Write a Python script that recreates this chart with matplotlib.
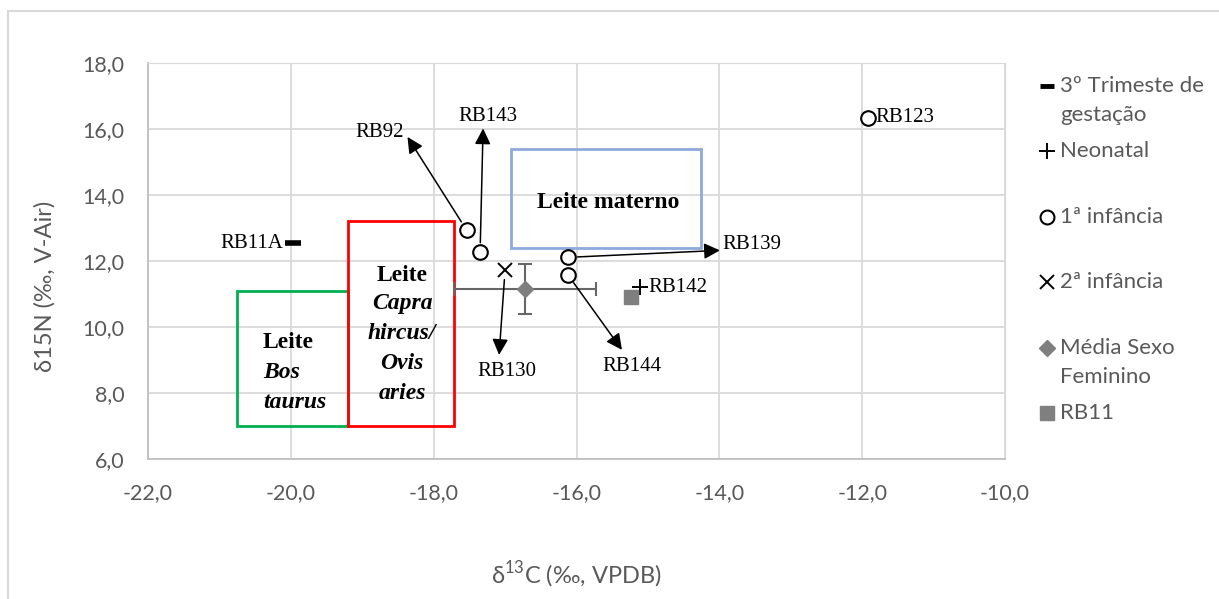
import matplotlib
matplotlib.use("Agg")
import matplotlib.pyplot as plt
from matplotlib.lines import Line2D
from matplotlib.patches import Rectangle

# --- data ---
gest_x, gest_y = [-19.97], [12.54]                     # RB11A
neo_x, neo_y = [-15.11], [11.20]                       # RB142
inf1_names = ["RB92", "RB143", "RB139", "RB144", "RB123"]
inf1_x = [-17.54, -17.35, -16.12, -16.12, -11.92]
inf1_y = [12.94, 12.26, 12.11, 11.58, 16.33]
inf2_x, inf2_y = [-17.00], [11.73]                     # RB130
mean_x, mean_y = [-16.72], [11.15]
mean_xerr, mean_yerr = [0.99], [0.76]
rb11_x, rb11_y = [-15.24], [10.92]

box_names = ["Bos", "Capra", "materno"]
box_x0 = [-20.75, -19.20, -16.92]
box_x1 = [-19.20, -17.71, -14.25]
box_y0 = [7.00, 7.00, 12.40]
box_y1 = [11.10, 13.20, 15.40]
box_colors = ["#00b050", "#ff0000", "#8eaadb"]

SANS = ["Lato", "DejaVu Sans"]
SERIF = ["Liberation Serif", "DejaVu Serif"]
GREY = "#595959"
plt.rcParams["font.family"] = SANS
plt.rcParams["mathtext.fontset"] = "custom"
plt.rcParams["mathtext.rm"] = "Lato"

W, H = 1219, 599
fig = plt.figure(figsize=(W / 100, H / 100), dpi=100)
ax = fig.add_axes([148 / W, 140 / H, 857 / W, 396 / H])

# outer chart-area border
fig.patches.append(Rectangle((8 / W, -0.2), 1.2, 1.2 - 11 / H, transform=fig.transFigure,
                             fill=False, edgecolor="#d9d9d9", lw=1.5))

# reference boxes
for x0, x1, y0, y1, c in zip(box_x0, box_x1, box_y0, box_y1, box_colors):
    ax.add_patch(Rectangle((x0, y0), x1 - x0, y1 - y0, fill=False, edgecolor=c, lw=2, zorder=2))

# error bars + mean
ax.errorbar(mean_x, mean_y, xerr=mean_xerr, yerr=mean_yerr, fmt="none", ecolor="#666666",
            elinewidth=1.5, capsize=5, capthick=1.5, zorder=3)

mk = dict(linestyle="none", zorder=5)
ax.plot(gest_x, gest_y, marker="_", color="black", markersize=11, mew=4, **mk)
ax.plot(neo_x, neo_y, marker="+", color="black", markersize=11, mew=1.4, **mk)
ax.plot(inf1_x, inf1_y, marker="o", mfc="white", mec="black", markersize=10.5, mew=1.5, **mk)
ax.plot(inf2_x, inf2_y, marker="x", color="black", markersize=10, mew=1.4, **mk)
ax.plot(mean_x, mean_y, marker="D", color="#7f7f7f", markersize=8, **mk)
ax.plot(rb11_x, rb11_y, marker="s", color="#7f7f7f", markersize=10.5, **mk)

# arrows: (x, y, tip offset px, label, label offset px, ha)
arrows = [
    (inf1_x[0], inf1_y[0], (-59, 93), "RB92", (-63, 97), "right"),
    (inf1_x[1], inf1_y[1], (3, 124), "RB143", (8, 136), "center"),
    (inf2_x[0], inf2_y[0], (-6, -85), "RB130", (2, -102), "center"),
    (inf1_x[2], inf1_y[2], (152, 7), "RB139", (154, 13), "left"),
    (inf1_x[3], inf1_y[3], (54, -75), "RB144", (64, -92), "center"),
]
for x, y, tip, name, lab, ha in arrows:
    ax.annotate("", xy=(x, y), xytext=tip, textcoords="offset pixels",
                arrowprops=dict(arrowstyle="<|-", color="black", lw=1.1,
                                shrinkA=0, shrinkB=7, mutation_scale=24), zorder=4)
    ax.annotate(name, xy=(x, y), xytext=lab, textcoords="offset pixels", ha=ha, va="center",
                family=SERIF, fontsize=15)

plain = [
    (gest_x[0], gest_y[0], "RB11A", (-10, 0), "right"),
    (neo_x[0], neo_y[0], "RB142", (8, 0), "left"),
    (inf1_x[4], inf1_y[4], "RB123", (7, 1), "left"),
]
for x, y, name, lab, ha in plain:
    ax.annotate(name, xy=(x, y), xytext=lab, textcoords="offset pixels", ha=ha, va="center",
                family=SERIF, fontsize=15)

# box labels
bfs = 17
ax.text(-20.39, 9.52, "Leite", family=SERIF, weight="bold", fontsize=bfs, ha="left", va="center")
ax.text(-20.39, 8.62, "Bos", family=SERIF, weight="bold", style="italic", fontsize=bfs, ha="left", va="center")
ax.text(-20.39, 7.71, "taurus", family=SERIF, weight="bold", style="italic", fontsize=bfs, ha="left", va="center")
ax.text(-18.44, 11.56, "Leite", family=SERIF, weight="bold", fontsize=bfs, ha="center", va="center")
for yy, t in zip([10.70, 9.79, 8.88, 7.97], ["Capra", "hircus/", "Ovis", "aries"]):
    ax.text(-18.44, yy, t, family=SERIF, weight="bold", style="italic", fontsize=bfs, ha="center", va="center")
ax.text(-15.56, 13.77, "Leite materno", family=SERIF, weight="bold", fontsize=bfs, ha="center", va="center")

# axes styling
ax.set_xlim(-22, -10)
ax.set_ylim(6, 18)
ax.set_xticks(range(-22, -9, 2))
ax.set_yticks(range(6, 19, 2))
ax.set_xticklabels([f"{v:.1f}".replace(".", ",") for v in range(-22, -9, 2)])
ax.set_yticklabels([f"{v:.1f}".replace(".", ",") for v in range(6, 19, 2)])
ax.tick_params(length=0, labelsize=15.5, colors=GREY, pad=17)
ax.grid(True, color="#d9d9d9", lw=1.3)
ax.set_axisbelow(True)
for s in ["top", "right"]:
    ax.spines[s].set_color("#d9d9d9")
for s in ["left", "bottom"]:
    ax.spines[s].set_color("#bfbfbf")
    ax.spines[s].set_linewidth(1.3)

ax.set_xlabel(r"δ$^{\mathrm{13}}$C (‰, VPDB)", fontsize=17, color=GREY)
ax.xaxis.set_label_coords(0.5, (459 - 575) / 396)
ax.xaxis.label.set_va("center")
ax.set_ylabel("δ15N (‰, V-Air)", fontsize=17, color=GREY)
ax.yaxis.set_label_coords((45 - 148) / 857, (459 - 286) / 396)
ax.yaxis.label.set_va("center")

# legend, Excel-style: one slot per series, marker on first text line
leg_labels = ["3º Trimeste de\ngestação", "Neonatal", "1ª infância", "2ª infância",
              "Média Sexo\nFeminino", "RB11"]
leg_styles = [
    dict(marker="_", color="black", markersize=10, mew=3.5),
    dict(marker="+", color="black", markersize=11, mew=1.4),
    dict(marker="o", mfc="white", mec="black", markersize=10, mew=1.5),
    dict(marker="x", color="black", markersize=10, mew=1.4),
    dict(marker="D", color="#7f7f7f", markersize=8),
    dict(marker="s", color="#7f7f7f", markersize=10.5),
]
for i, (lab, st) in enumerate(zip(leg_labels, leg_styles)):
    py = 86 + 65.4 * i
    fig.add_artist(Line2D([1047 / W], [1 - py / H], linestyle="none", transform=fig.transFigure, **st))
    for k, line in enumerate(lab.split("\n")):
        fig.text(1060 / W, 1 - (py + 29 * k) / H, line, fontsize=16, color=GREY,
                 ha="left", va="center")

fig.savefig("out.png", dpi=100)
